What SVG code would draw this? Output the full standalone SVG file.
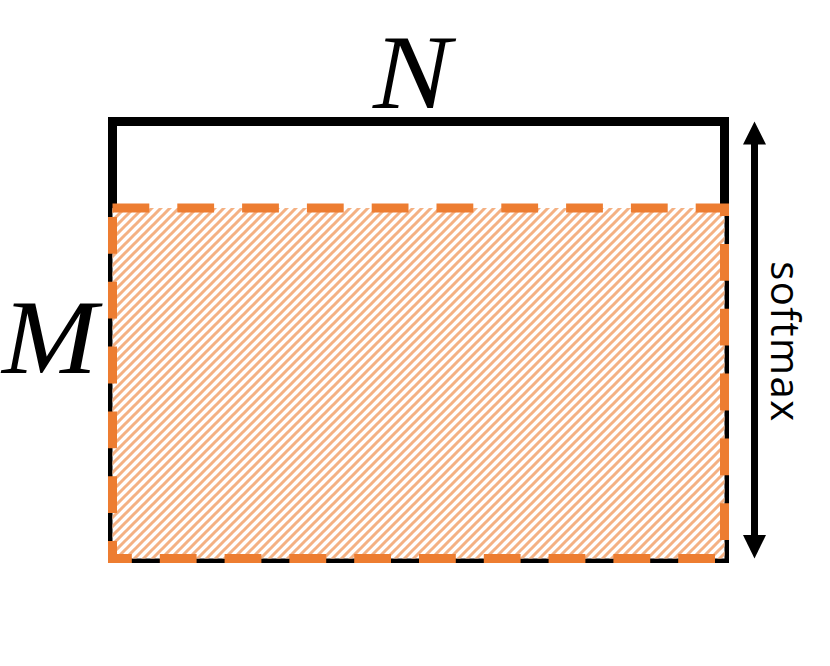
<svg xmlns="http://www.w3.org/2000/svg" width="830" height="666" viewBox="0 0 830 666">
<defs>
<style>
.math{font-family:"Liberation Serif","Times New Roman",serif;font-style:italic;font-size:106px;fill:#000}
.lbl{font-family:"Open Sans","Noto Sans",sans-serif;font-size:40px;letter-spacing:1.5px;fill:#000}
</style>
<pattern id="hatch" patternUnits="userSpaceOnUse" width="9" height="9">
<path d="M-1,10 L10,-1 M-5,5 L5,-5 M4,14 L14,4" stroke="#f4b183" stroke-width="3" fill="none"/>
</pattern>
</defs>
<rect width="830" height="666" fill="#fff"/>
<g id="matrix">
<rect x="112.5" y="121.5" width="612" height="437" fill="#fff" stroke="#000" stroke-width="9"/>
</g>
<g id="region">
<rect x="112.5" y="208" width="612" height="350.5" fill="#fff"/>
<rect x="112.5" y="208" width="612" height="350.5" fill="url(#hatch)"/>
<rect x="112.5" y="208" width="612" height="350.5" fill="none" stroke="#ed7d31" stroke-width="9" stroke-dasharray="36.8 28"/>
</g>
<g id="label-N"><text class="math" transform="translate(373,108) scale(1.1,1)">N</text></g>
<g id="label-M"><text class="math" transform="translate(2,373) scale(1.08,1)">M</text></g>
<g id="connectors">
<line x1="754.5" y1="140" x2="754.5" y2="540" stroke="#000" stroke-width="7"/>
<polygon points="754.5,121.5 766,144.5 743,144.5" fill="#000"/>
<polygon points="754.5,558.5 766,535 743,535" fill="#000"/>
</g>
<g id="label-softmax"><text class="lbl" transform="translate(771,342) rotate(90)" text-anchor="middle">softmax</text></g>
</svg>
